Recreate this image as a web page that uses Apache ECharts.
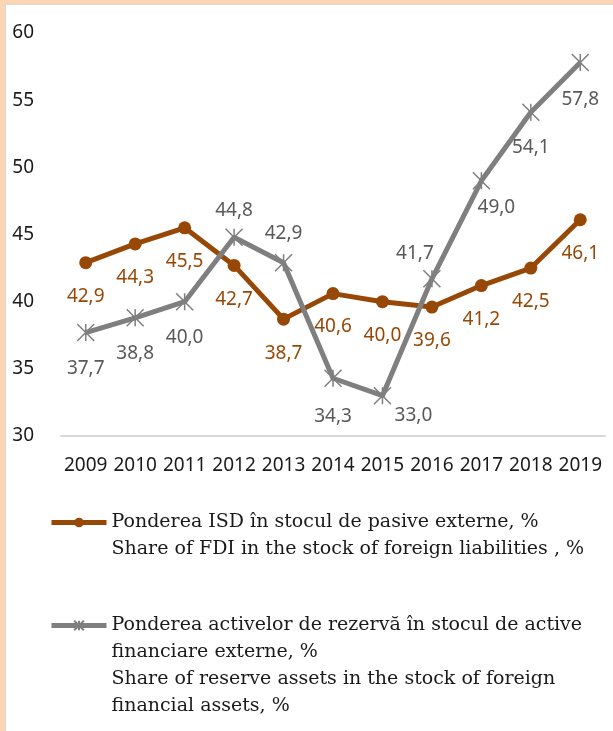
<!DOCTYPE html>
<html>
<head>
<meta charset="utf-8">
<script src="https://cdn.jsdelivr.net/npm/echarts@6/dist/echarts.min.js"></script>
<style>
    html, body { margin: 0; padding: 0; background: #FCD5B4; }
    #frame {
        position: absolute; left: 5px; top: 4px; width: 608px; height: 727px;
        background: #fff; border-left: 1px solid #d9d9d9; border-top: 1px solid #d9d9d9;
    }
    #chart { position: absolute; left: 0; top: 0; width: 613px; height: 731px; }
</style>
</head>
<body>
<div id="frame"></div>
<div id="chart"></div>
<script>
    var years = ['2009', '2010', '2011', '2012', '2013', '2014', '2015', '2016', '2017', '2018', '2019'];
    var fdiShare = [42.9, 44.3, 45.5, 42.7, 38.7, 40.6, 40.0, 39.6, 41.2, 42.5, 46.1];
    var reserveShare = [37.7, 38.8, 40.0, 44.8, 42.9, 34.3, 33.0, 41.7, 49.0, 54.1, 57.8];
    var yTicks = [30, 35, 40, 45, 50, 55, 60];

    var nameFdi = 'Ponderea ISD în stocul de pasive externe, %\nShare of FDI in the stock of foreign liabilities , %';
    var nameRes = 'Ponderea activelor de rezervă în stocul de active\nfinanciare externe, %\nShare of reserve assets in the stock of foreign\nfinancial assets, %';

    // label offsets (from the point centre)
    var fdiOffsets = [[0, 34], [0, 34], [0, 34], [0, 34], [0, 34], [0, 33], [0, 34], [0, 34], [0, 34], [0, 34], [0, 34]];
    var resOffsets = [[0, 36], [0, 36], [0, 36], [0, -27], [0, -29], [0, 38], [31, 20], [-17, -25], [15, 27], [0, 35], [0, 37]];

    var brown = '#974806';
    var grey = '#7f7f7f';
    var numFont = 'Noto Sans';
    var legFont = 'DejaVu Serif';

    function withLabels(values, offsets) {
        return values.map(function (v, i) {
            return { value: v, label: { offset: offsets[i] } };
        });
    }

    // pad with blank lines so the icon sits on the first line
    function legendText(name) {
        var n = name.split('\n').length;
        var pad = '';
        for (var i = 1; i < n; i++) pad += '\n';
        return pad + name;
    }

    function legendFor(name, top) {
        return {
            data: [name], left: 49, top: top, padding: 0, orient: 'vertical',
            itemWidth: 55, itemHeight: 12, itemGap: 0, selectedMode: false,
            formatter: legendText,
            lineStyle: { width: 5 },
            textStyle: { color: '#1a1a1a', fontFamily: legFont, fontSize: 19, lineHeight: 27 }
        };
    }

    var chart = echarts.init(document.getElementById('chart'));
    chart.setOption({
        animation: false,
        backgroundColor: 'transparent',
        grid: { left: 61, right: 8, top: 33, bottom: 295 },
        xAxis: {
            type: 'category',
            data: years,
            boundaryGap: true,
            axisLine: { lineStyle: { color: '#d9d9d9', width: 2 } },
            axisTick: { show: false },
            axisLabel: { color: '#1a1a1a', fontFamily: numFont, fontSize: 19, margin: 20, interval: 0 }
        },
        yAxis: {
            type: 'value',
            min: yTicks[0],
            max: yTicks[yTicks.length - 1],
            interval: 5,
            axisLine: { show: false },
            axisTick: { show: false },
            splitLine: { show: false },
            axisLabel: { color: '#1a1a1a', fontFamily: numFont, fontSize: 19, margin: 27 }
        },
        legend: [legendFor(nameFdi, 482), legendFor(nameRes, 531)],
        series: [
            {
                name: nameFdi,
                type: 'line',
                data: withLabels(fdiShare, fdiOffsets),
                symbol: 'circle',
                symbolSize: 13,
                lineStyle: { color: brown, width: 5 },
                itemStyle: { color: brown },
                label: {
                    show: true, position: 'inside', color: brown,
                    fontFamily: numFont, fontSize: 19,
                    formatter: function (p) { return p.value.toFixed(1).replace('.', ','); }
                }
            },
            {
                name: nameRes,
                type: 'line',
                data: withLabels(reserveShare, resOffsets),
                symbol: 'path://M0,0L16,16M16,0L0,16M8,0L8,16',
                symbolSize: 17,
                lineStyle: { color: grey, width: 5 },
                itemStyle: { color: grey, borderColor: grey, borderWidth: 1.5 },
                label: {
                    show: true, position: 'inside', color: '#595959',
                    fontFamily: numFont, fontSize: 19,
                    formatter: function (p) { return p.value.toFixed(1).replace('.', ','); }
                }
            }
        ]
    });
</script>
</body>
</html>
